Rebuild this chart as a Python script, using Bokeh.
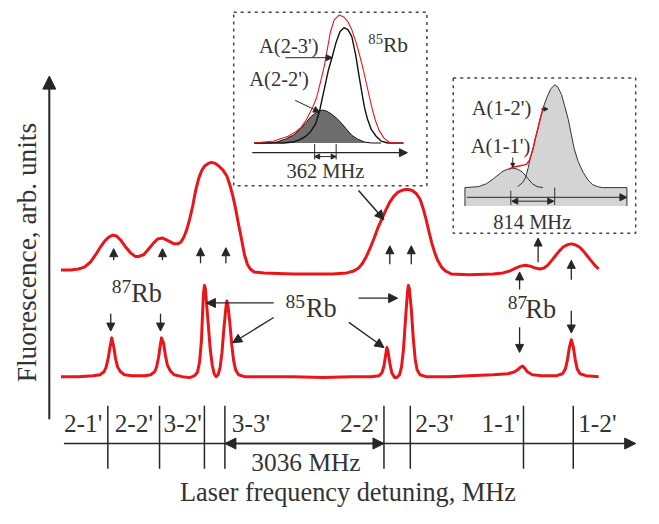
import math
from bokeh.plotting import figure
from bokeh.models import Range1d, Arrow, NormalHead
from bokeh.core.properties import value
from bokeh.embed import file_html
from bokeh.resources import INLINE

# ---------------- data (detuning / fluorescence, screen-scaled arbitrary units) -------------
upper_x = [62, 72, 80, 86, 92, 97, 102, 107, 111, 115, 119, 123, 128, 133, 138, 142, 147, 152, 157, 161,
           166, 170, 174, 178, 182, 185, 188, 191, 194, 197, 200, 203, 206, 209, 213, 216, 220, 224, 228, 232,
           235, 238, 241, 244, 247, 250, 253, 256, 260, 270, 300, 340, 355, 362, 367, 371, 375, 379, 383, 387,
           391, 395, 399, 403, 407, 411, 415, 418, 422, 426, 430, 433, 436, 439, 442, 445, 448, 452, 456, 462,
           480, 505, 515, 522, 528, 533, 538, 543, 548, 553, 557, 561, 565, 569, 573, 577, 581, 585, 589, 593,
           597, 601, 605, 609, 613]
upper_y = [278, 278, 277, 275, 270, 263, 255, 248, 244, 242, 243, 247, 254, 260, 264, 264, 262, 256, 250, 246,
           245, 247, 249, 251, 251, 249, 244, 236, 225, 212, 196, 184, 176, 171, 168, 167, 168, 171, 175, 181,
           190, 201, 215, 231, 246, 262, 272, 277, 280, 281, 282, 282, 281, 279, 276, 271, 264, 255, 245, 234,
           225, 216, 208, 202, 198, 196, 195, 195, 196, 199, 205, 214, 225, 238, 250, 260, 268, 275, 279, 282,
           283, 282, 281, 279, 276, 274, 273, 274, 276, 277, 276, 273, 268, 263, 258, 254, 252, 251, 252, 254,
           258, 263, 268, 273, 277]

lower_x = [62, 80, 95, 102, 106, 108, 110, 112, 114, 116, 118, 120, 123, 127, 135, 148, 154, 158, 160, 162,
           164, 165, 167, 169, 171, 174, 178, 186, 194, 199, 202, 204, 206, 207, 208, 209, 210, 211, 213, 215,
           217, 219, 221, 223, 225, 227, 229, 231, 232, 233, 235, 237, 239, 241, 244, 250, 270, 300, 330, 360,
           380, 388, 391, 393, 395, 396, 397, 399, 401, 404, 406, 409, 411, 413, 415, 417, 418, 419, 421, 423,
           425, 427, 430, 436, 460, 480, 505, 520, 527, 530, 532, 535, 537, 540, 545, 555, 570, 576, 579, 581,
           583, 585, 587, 589, 591, 594, 600, 613]
lower_y = [388, 388, 387, 386, 383, 379, 371, 359, 348, 357, 370, 378, 383, 386, 387, 387, 386, 383, 378, 368,
           354, 348, 353, 366, 376, 382, 386, 388, 389, 387, 383, 373, 350, 325, 303, 294, 297, 310, 335, 360,
           376, 385, 388, 386, 379, 363, 338, 317, 310, 314, 332, 355, 372, 381, 386, 388, 388, 388, 389, 388,
           388, 387, 384, 377, 364, 358, 361, 374, 384, 389, 389, 386, 378, 360, 330, 302, 294, 297, 318, 348,
           370, 381, 386, 388, 388, 387, 386, 385, 383, 381, 379, 377, 379, 383, 386, 387, 387, 385, 380, 371,
           358, 350, 357, 370, 380, 385, 387, 388]

# inset 1 (85Rb, F=2): sum (red), A(2-3') (black), A(2-2') (grey filled)
in1_sum_x = [260, 280, 295, 303, 308, 314, 320, 324, 328, 332, 335, 338, 342, 347, 352, 356, 360, 364, 368, 372,
             376, 380, 384, 388, 393, 398, 405, 413]
in1_sum_y = [147, 145, 140, 135, 131, 122, 110, 100, 84, 67, 50, 33, 20, 15, 17, 22, 30, 42, 56, 72,
             90, 108, 123, 134, 142, 146, 147, 147]
in1_a23_x = [260, 290, 300, 308, 313, 318, 323, 327, 330, 333, 336, 340, 344, 348, 352, 356, 360, 364, 367, 370,
             373, 376, 380, 385, 390, 397, 403, 413]
in1_a23_y = [147, 147, 146, 143, 140, 135, 127, 114, 100, 86, 72, 58, 43, 32, 28, 30, 37, 56, 75, 93,
             110, 122, 133, 140, 145, 147, 147, 147]
in1_a22_x = [260, 275, 283, 292, 300, 307, 313, 318, 323, 327, 330, 334, 339, 344, 349, 354, 360, 366, 373, 380, 390]
in1_a22_y = [147, 147, 146, 143, 139, 133, 126, 120, 116, 114, 113, 114, 117, 121, 126, 132, 139, 143, 146, 147, 147]

# inset 2 (87Rb, F=1): A(1-1'), A(1-2'), sum (red where it differs)
in2_a11_x = [476, 490, 498, 505, 510, 515, 520, 525, 530, 535, 540, 545, 550, 556]
in2_a11_y = [193, 192, 189, 184, 180, 176, 174, 173, 174, 177, 183, 189, 192, 193]
in2_a12_x = [530, 535, 538, 541, 543, 546, 548, 551, 553, 556, 560, 564, 568, 571, 575, 578, 582, 585, 588, 592,
             597, 602, 607, 612, 617, 642]
in2_a12_y = [192, 188, 183, 172, 162, 152, 143, 131, 122, 111, 100, 91, 87, 89, 97, 108, 123, 138, 153, 166,
             177, 185, 190, 192, 193, 193]
in2_sum_x = [521, 525, 530, 535, 539, 542, 545, 548, 551, 554, 556]
in2_sum_y = [174, 172, 171, 170, 169, 165, 156, 143, 131, 119, 112]
in2_env_x = [476, 490, 498, 505, 510, 515, 520, 525, 530, 535, 538, 541, 543, 546, 548, 551, 553, 556, 560, 564,
             568, 571, 575, 578, 582, 585, 588, 592, 597, 602, 607, 612, 617, 642]
in2_env_y = [193, 192, 189, 184, 180, 176, 174, 173, 174, 177, 181, 172, 162, 152, 143, 131, 122, 111, 100, 91,
             87, 89, 97, 108, 123, 138, 153, 166, 177, 185, 190, 192, 193, 193]

# transition markers on detuning axis
trans_x = [110, 163, 209, 230, 393, 420, 536, 587]
trans_labels = ["2-1'", "2-2'", "3-2'", "3-3'", "2-2'", "2-3'", "1-1'", "1-2'"]
trans_label_x = [65, 117, 167, 237, 348, 425, 493, 592]

# ---------------- figure ----------------
RED = "#e8161b"
INK = "#262626"
TXT = "#333333"
FONT = value("Liberation Serif")
S = 643 / 659.0  # canvas scale relative to reference frame
BASE_SHIFT = 0.345  # em offset between requested and rendered baseline in the svg backend

p = figure(width=643, height=508, x_range=Range1d(0, 659), y_range=Range1d(524, 0),
           output_backend="svg", toolbar_location=None, min_border=0,
           x_axis_location=None, y_axis_location=None, outline_line_color=None)
p.grid.visible = False
p.background_fill_color = "white"
p.border_fill_color = "white"

# spectra
p.line(upper_x, upper_y, line_color=RED, line_width=3, line_join="round")
p.line(lower_x, lower_y, line_color=RED, line_width=3, line_join="round")

# main axes
p.add_layout(Arrow(end=NormalHead(size=13, fill_color=INK, line_color=INK), x_start=50, y_start=432,
                   x_end=50, y_end=78, line_color=INK, line_width=2))
p.add_layout(Arrow(end=NormalHead(size=11, fill_color=INK, line_color=INK), x_start=65, y_start=457,
                   x_end=651, y_end=457, line_color=INK, line_width=1.6))
p.add_layout(Arrow(start=NormalHead(size=11, fill_color=INK, line_color=INK),
                   end=NormalHead(size=11, fill_color=INK, line_color=INK),
                   x_start=230, y_start=457, x_end=393, y_end=457, line_color=INK, line_width=1.6))
p.segment(x0=trans_x, y0=[418] * len(trans_x), x1=trans_x, y1=[483] * len(trans_x),
          line_color=INK, line_width=1.5)


def txt(x, y, s, size, align="left", angle=0.0, color=TXT):
    shift = BASE_SHIFT * size
    if angle:
        x = x - shift
    else:
        y = y - shift
    p.text(x=[x], y=[y], text=[s], text_font=FONT, text_font_size=f"{size * S:.1f}px", text_align=align,
           text_baseline="alphabetic", angle=angle, text_color=color)


def arrow(x0, y0, x1, y1, size=8, lw=1.3, both=False):
    head = lambda: NormalHead(size=size, fill_color=INK, line_color=INK, line_width=1)
    p.add_layout(Arrow(start=head() if both else None, end=head(), x_start=x0, y_start=y0,
                       x_end=x1, y_end=y1, line_color=INK, line_width=lw))


for lx, lab in zip(trans_label_x, trans_labels):
    txt(lx, 445, lab, 26)
txt(257, 485, "3036 MHz", 26)
txt(184, 517, "Laser frequency detuning, MHz", 27)
txt(37, 260, "Fluorescence, arb. units", 28, align="center", angle=math.pi / 2)

# isotope labels
txt(114, 302, "87", 20)
txt(134, 312, "Rb", 27)
txt(520, 318, "87", 20)
txt(538, 328, "Rb", 27)
txt(292, 317, "85", 20)
txt(313, 327, "Rb", 27)

# arrows marking resonances
for ax in [116, 166]:
    arrow(ax, 268, ax, 256)
for ax in [205, 231]:
    arrow(ax, 271, ax, 255)
for ax in [399, 421]:
    arrow(ax, 272, ax, 253)
arrow(532, 298, 532, 280)
arrow(551, 270, 551, 245)
arrow(585, 288, 585, 268)
for ax in [113, 164]:
    arrow(ax, 323, ax, 341)
arrow(532, 337, 532, 363)
arrow(585, 320, 585, 343)
arrow(280, 312, 211, 312, size=9)
arrow(280, 327, 238, 353, size=9)
arrow(367, 307, 407, 307, size=9)
arrow(357, 332, 393, 358, size=9)
arrow(367, 196, 393, 226, size=9, lw=1.5)

# ---------------- inset 1 ----------------
p.rect(x=[338], y=[101.5], width=198, height=179, fill_color=None, line_color="#444444",
       line_width=1.5, line_dash="3 4")
p.varea(x=in1_a22_x, y1=[147] * len(in1_a22_x), y2=in1_a22_y, fill_color="#6e6e6e")
p.line(in1_a22_x, in1_a22_y, line_color="#111111", line_width=1)
p.line(in1_a23_x, in1_a23_y, line_color="#111111", line_width=1.4)
p.line(in1_sum_x, in1_sum_y, line_color=RED, line_width=1.1)
arrow(258, 157, 417, 157, size=8, lw=1.2)
p.segment(x0=[322, 344], y0=[148, 148], x1=[322, 344], y1=[164, 164], line_color=INK, line_width=1)
arrow(322, 161, 344, 161, size=5, lw=1, both=True)
txt(333, 183, "362 MHz", 21, align="center")
txt(265, 54, "A(2-3')", 21)
txt(255, 88, "A(2-2')", 21)
txt(377, 45, "85", 15)
txt(392, 53, "Rb", 22)
arrow(292, 59, 340, 59, size=6, lw=1)
arrow(302, 103, 327, 115, size=6, lw=1)

# ---------------- inset 2 ----------------
p.rect(x=[557.5], y=[160], width=187, height=160, fill_color=None, line_color="#444444",
       line_width=1.5, line_dash="3 4")
p.varea(x=in2_env_x, y1=[212] * len(in2_env_x), y2=in2_env_y, fill_color="#d4d4d4")
p.line(in2_a11_x, in2_a11_y, line_color="#333333", line_width=1)
p.line(in2_a12_x, in2_a12_y, line_color="#333333", line_width=1)
p.line(in2_sum_x, in2_sum_y, line_color=RED, line_width=1.4)
p.segment(x0=[476, 642, 523, 568], y0=[193, 193, 196, 193], x1=[476, 642, 523, 568], y1=[212, 212, 211, 211],
          line_color="#333333", line_width=1)
arrow(478, 203, 642, 203, size=7, lw=1)
arrow(524, 207, 567, 207, size=6, lw=1, both=True)
txt(545, 236, "814 MHz", 21, align="center")
txt(483, 118, "A(1-2')", 21)
txt(482, 157, "A(1-1')", 21)
arrow(554, 112, 561, 112, size=4, lw=1)
arrow(525, 162, 525, 172, size=4, lw=1)

open("out.html", "w").write(file_html(p, INLINE))
